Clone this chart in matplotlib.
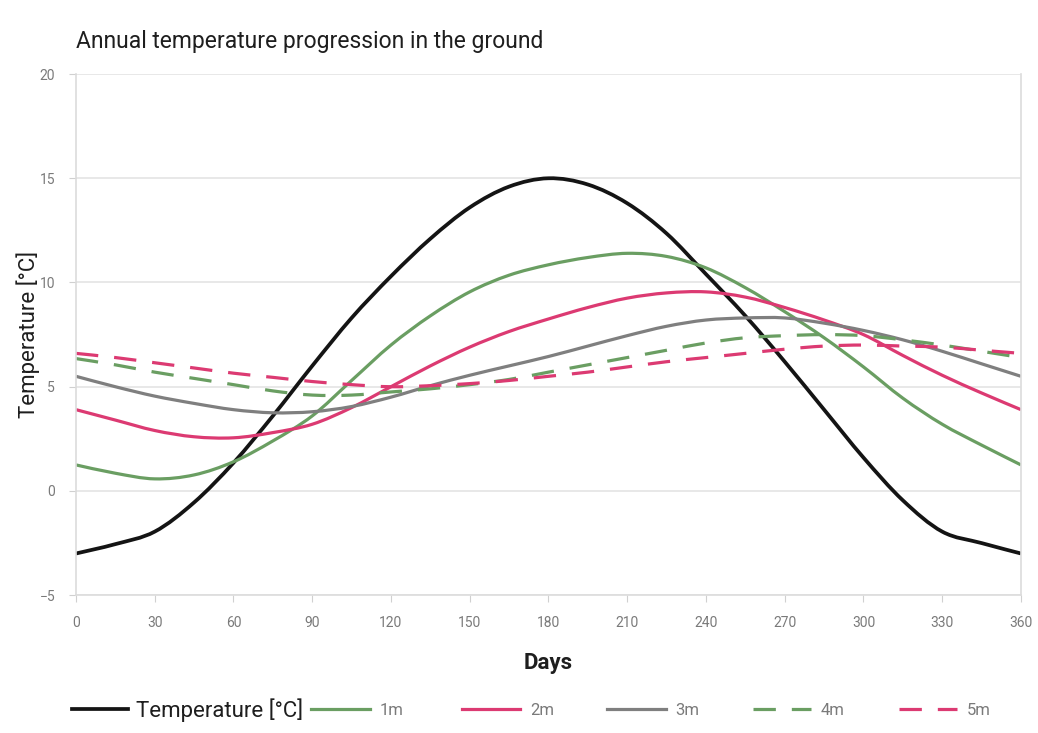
import matplotlib
matplotlib.use("Agg")
import matplotlib.pyplot as plt
from matplotlib.lines import Line2D
from matplotlib.path import Path
from matplotlib.patches import PathPatch

# days, every 15
days = list(range(0, 361, 15))

# air temperature
temp_air = [-3.0, -2.55, -1.95, -0.55, 1.35, 3.6, 6.0, 8.3, 10.3, 12.1, 13.6, 14.6, 15.0,
            14.7, 13.8, 12.35, 10.4, 8.4, 6.2, 3.9, 1.6, -0.45, -1.95, -2.5, -3.0]
# ground temperatures at depth
t_1m = [1.25, 0.85, 0.58, 0.77, 1.4, 2.4, 3.6, 5.3, 7.0, 8.4, 9.55, 10.35, 10.85,
        11.2, 11.4, 11.25, 10.7, 9.75, 8.6, 7.35, 5.95, 4.45, 3.2, 2.2, 1.25]
t_2m = [3.9, 3.4, 2.9, 2.6, 2.55, 2.8, 3.2, 4.0, 5.0, 6.0, 6.9, 7.65, 8.25,
        8.8, 9.25, 9.5, 9.55, 9.3, 8.8, 8.2, 7.5, 6.5, 5.55, 4.7, 3.9]
t_3m = [5.5, 5.0, 4.55, 4.2, 3.9, 3.75, 3.8, 4.05, 4.5, 5.05, 5.55, 6.0, 6.45,
        6.95, 7.45, 7.9, 8.2, 8.3, 8.3, 8.05, 7.7, 7.25, 6.7, 6.1, 5.5]
t_4m = [6.35, 6.05, 5.7, 5.4, 5.1, 4.8, 4.6, 4.6, 4.75, 4.9, 5.1, 5.35, 5.7,
        6.05, 6.4, 6.75, 7.1, 7.35, 7.45, 7.5, 7.45, 7.25, 7.0, 6.7, 6.4]
t_5m = [6.6, 6.4, 6.15, 5.9, 5.65, 5.45, 5.25, 5.1, 5.0, 5.05, 5.15, 5.3, 5.5,
        5.7, 5.95, 6.2, 6.4, 6.6, 6.8, 6.95, 7.0, 6.95, 6.9, 6.75, 6.6]

labels = ["Temperature [°C]", "1m", "2m", "3m", "4m", "5m"]
x_ticks = list(range(0, 361, 30))
y_ticks = [-5, 0, 5, 10, 15, 20]

black = "#141414"
green = "#6a9e62"
pink = "#dc3a72"
grey = "#7f7f7f"
tick_col = "#7a7a7a"
dash = (0, (7, 5))

plt.rcParams['font.family'] = ['Roboto', 'DejaVu Sans']


def smooth_line(ax, xs, ys, **kw):
    # excel style smoothed line: bezier segments through the points
    verts = [(xs[0], ys[0])]
    codes = [Path.MOVETO]
    n = len(xs)
    for i in range(n - 1):
        x0, y0 = xs[max(i - 1, 0)], ys[max(i - 1, 0)]
        x1, y1 = xs[i], ys[i]
        x2, y2 = xs[i + 1], ys[i + 1]
        x3, y3 = xs[min(i + 2, n - 1)], ys[min(i + 2, n - 1)]
        c1 = (x1 + (x2 - x0) / 6, y1 + (y2 - y0) / 6)
        c2 = (x2 - (x3 - x1) / 6, y2 - (y3 - y1) / 6)
        verts += [c1, c2, (x2, y2)]
        codes += [Path.CURVE4] * 3
    p = PathPatch(Path(verts, codes), fill=False, transform=ax.transData,
                  capstyle="butt", **kw)
    ax.add_patch(p)


fig = plt.figure(figsize=(10.38, 7.33), dpi=100)
ax = fig.add_axes([0.0732, 0.188, 0.9104, 0.711])

smooth_line(ax, days, temp_air, edgecolor=black, lw=2.7)
smooth_line(ax, days, t_1m, edgecolor=green, lw=2.3)
smooth_line(ax, days, t_2m, edgecolor=pink, lw=2.3)
smooth_line(ax, days, t_3m, edgecolor=grey, lw=2.3)
smooth_line(ax, days, t_4m, edgecolor=green, lw=2.3, linestyle=dash)
smooth_line(ax, days, t_5m, edgecolor=pink, lw=2.3, linestyle=dash)

ax.set_xlim(0, 360)
ax.set_ylim(-5, 20)
ax.set_xticks(x_ticks)
ax.set_yticks(y_ticks)
ax.set_yticklabels(["\u22125", "0", "5", "10", "15", "20"])
ax.grid(axis='y', color="#e4e4e4", lw=1.2)
ax.set_axisbelow(True)
for s in ["left", "bottom", "right"]:
    ax.spines[s].set_color("#dcdcdc")
    ax.spines[s].set_linewidth(1.2)
ax.spines["top"].set_visible(False)
ax.tick_params(axis='both', colors="#d0d0d0", labelcolor=tick_col, labelsize=10, length=5)
ax.tick_params(axis='x', pad=10)
ax.tick_params(axis='y', pad=10)

fig.text(0.073, 0.944, "Annual temperature progression in the ground", fontsize=16.5,
         color="#1e1e1e", ha="left", va="center")
ax.set_ylabel("Temperature [°C]", fontsize=16, color="#1e1e1e")
ax.yaxis.set_label_coords(-0.038, 0.5)
ax.set_xlabel("Days", fontsize=16, fontweight="bold", color="#1e1e1e", labelpad=16)

# legend entries spaced like the original
handles = [
    Line2D([], [], color=black, lw=2.7),
    Line2D([], [], color=green, lw=2.3),
    Line2D([], [], color=pink, lw=2.3),
    Line2D([], [], color=grey, lw=2.3),
    Line2D([], [], color=green, lw=2.3, ls=dash),
    Line2D([], [], color=pink, lw=2.3, ls=dash),
]
leg_x = [0.069, 0.300, 0.445, 0.585, 0.725, 0.866]
for i, (h, lab) in enumerate(zip(handles, labels)):
    if i == 0:
        lg = fig.legend([h], [lab], loc="center left", bbox_to_anchor=(leg_x[i], 0.031),
                        frameon=False, fontsize=16, handlelength=2.55, handletextpad=0.35,
                        borderpad=0, borderaxespad=0)
        lg.get_texts()[0].set_color("#1e1e1e")
    else:
        lg = fig.legend([h], [lab], loc="center left", bbox_to_anchor=(leg_x[i], 0.031),
                        frameon=False, fontsize=12, handlelength=3.5, handletextpad=0.6,
                        borderpad=0, borderaxespad=0)
        lg.get_texts()[0].set_color(tick_col)

fig.savefig("out.png", dpi=100)
